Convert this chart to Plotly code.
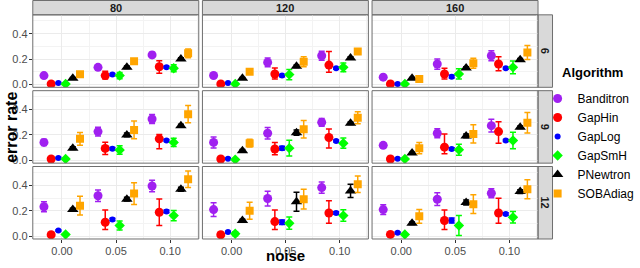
import plotly.graph_objects as go

# ---------------- data ----------------
algorithms = ["Banditron", "GapHin", "GapLog", "GapSmH", "PNewtron", "SOBAdiag"]
noise = [0.00, 0.05, 0.10]
col_labels = ["80", "120", "160"]
row_labels = ["6", "9", "12"]
x_tick_vals = [0.00, 0.05, 0.10]
x_tick_text = ["0.00", "0.05", "0.10"]
y_tick_vals = [0.0, 0.2, 0.4]
y_tick_text = ["0.0", "0.2", "0.4"]

# panels ordered row-wise: (6,80),(6,120),(6,160),(9,80),...,(12,160); 3 noise levels each
banditron = [[0.070, 0.135, 0.233], [0.071, 0.174, 0.226], [0.058, 0.161, 0.226],
             [0.141, 0.226, 0.325], [0.141, 0.213, 0.299], [0.118, 0.213, 0.273],
             [0.232, 0.318, 0.395], [0.209, 0.296, 0.382], [0.209, 0.291, 0.338]]
banditron_err = [[0.012, 0.020, 0.020], [0.012, 0.035, 0.035], [0.012, 0.040, 0.040],
                 [0.025, 0.035, 0.036], [0.043, 0.045, 0.030], [0.015, 0.035, 0.050],
                 [0.039, 0.045, 0.045], [0.054, 0.058, 0.044], [0.039, 0.050, 0.035]]

gaphin = [[0.005, 0.070, 0.140], [0.005, 0.083, 0.153], [0.005, 0.083, 0.161],
          [0.011, 0.094, 0.169], [0.011, 0.089, 0.180], [0.011, 0.104, 0.226],
          [0.011, 0.110, 0.188], [0.011, 0.115, 0.182], [0.014, 0.123, 0.182]]
gaphin_up = [[0.005, 0.034, 0.047], [0.005, 0.047, 0.106], [0.005, 0.044, 0.057],
             [0.006, 0.049, 0.035], [0.006, 0.052, 0.067], [0.006, 0.104, 0.078],
             [0.006, 0.096, 0.104], [0.006, 0.091, 0.096], [0.006, 0.083, 0.117]]
gaphin_dn = [[0.005, 0.026, 0.052], [0.005, 0.039, 0.057], [0.005, 0.039, 0.052],
             [0.006, 0.047, 0.078], [0.006, 0.044, 0.083], [0.006, 0.052, 0.091],
             [0.006, 0.057, 0.104], [0.006, 0.062, 0.080], [0.006, 0.070, 0.080]]

gaplog = [[0.011, 0.078, 0.135], [0.011, 0.070, 0.128], [0.005, 0.062, 0.128],
          [0.019, 0.091, 0.156], [0.013, 0.096, 0.153], [0.013, 0.089, 0.156],
          [0.045, 0.131, 0.195], [0.032, 0.110, 0.182], [0.027, 0.123, 0.174]]
gaplog_err = [[0.004, 0.008, 0.008], [0.004, 0.008, 0.008], [0.004, 0.010, 0.008],
              [0.005, 0.010, 0.008], [0.005, 0.015, 0.008], [0.005, 0.010, 0.008],
              [0.006, 0.010, 0.010], [0.006, 0.018, 0.010], [0.006, 0.020, 0.010]]

gapsmh = [[0.005, 0.070, 0.128], [0.005, 0.078, 0.135], [0.005, 0.083, 0.135],
          [0.011, 0.081, 0.141], [0.006, 0.096, 0.135], [0.011, 0.083, 0.156],
          [0.014, 0.084, 0.162], [0.019, 0.102, 0.162], [0.014, 0.084, 0.149]]
gapsmh_err = [[0.004, 0.024, 0.028], [0.004, 0.040, 0.035], [0.004, 0.040, 0.050],
              [0.005, 0.033, 0.033], [0.005, 0.062, 0.040], [0.005, 0.043, 0.065],
              [0.006, 0.035, 0.040], [0.015, 0.048, 0.045], [0.006, 0.078, 0.045]]

pnewtron = [[0.050, 0.135, 0.200], [0.050, 0.143, 0.208], [0.050, 0.130, 0.195],
            [0.096, 0.200, 0.273], [0.076, 0.218, 0.291], [0.058, 0.192, 0.260],
            [0.209, 0.291, 0.369], [0.123, 0.271, 0.356], [0.102, 0.265, 0.351]]
pnewtron_err = [[0.005, 0.010, 0.010], [0.005, 0.010, 0.010], [0.005, 0.010, 0.010],
                [0.010, 0.015, 0.010], [0.010, 0.020, 0.010], [0.005, 0.015, 0.010],
                [0.010, 0.015, 0.015], [0.010, 0.074, 0.052], [0.010, 0.020, 0.015]]

sobadiag = [[0.081, 0.182, 0.245], [0.101, 0.179, 0.260], [0.044, 0.167, 0.252],
            [0.169, 0.239, 0.363], [0.135, 0.244, 0.335], [0.096, 0.208, 0.296],
            [0.240, 0.335, 0.447], [0.200, 0.291, 0.408], [0.156, 0.252, 0.369]]
sobadiag_err = [[0.010, 0.010, 0.035], [0.010, 0.040, 0.020], [0.010, 0.040, 0.055],
                [0.050, 0.070, 0.068], [0.030, 0.069, 0.048], [0.045, 0.072, 0.080],
                [0.074, 0.085, 0.065], [0.067, 0.078, 0.065], [0.054, 0.074, 0.074]]

series = {
    "Banditron": (banditron, banditron_err, banditron_err),
    "GapHin": (gaphin, gaphin_up, gaphin_dn),
    "GapLog": (gaplog, gaplog_err, gaplog_err),
    "GapSmH": (gapsmh, gapsmh_err, gapsmh_err),
    "PNewtron": (pnewtron, pnewtron_err, pnewtron_err),
    "SOBAdiag": (sobadiag, sobadiag_err, sobadiag_err),
}

# ---------------- style ----------------
colors = {"Banditron": "#A020F0", "GapHin": "#FF0000", "GapLog": "#0000FF",
          "GapSmH": "#00FF00", "PNewtron": "#000000", "SOBAdiag": "#FFA500"}
symbols = {"Banditron": "circle", "GapHin": "circle", "GapLog": "circle",
           "GapSmH": "diamond", "PNewtron": "triangle-up", "SOBAdiag": "square"}
sizes = {"Banditron": 9, "GapHin": 9, "GapLog": 6, "GapSmH": 8, "PNewtron": 10, "SOBAdiag": 8}
dodge_step = 0.00667

W, H = 640, 268
FONT = "Liberation Sans, Arial, sans-serif"
col_px = [(33.0, 200.0), (203.7, 370.7), (374.4, 541.4)]
row_px = [(15.0, 88.3), (91.7, 165.0), (168.4, 241.7)]
strip_top = 0.5
strip_right = (541.4, 556.0)
border_col = "#6E6E6E"

def px_x(v):
    return v / W

def px_y(v):
    return 1 - v / H

fig = go.Figure()
layout = {}
shapes = []
annotations = []

for r in range(3):
    for c in range(3):
        k = r * 3 + c
        ax = "" if k == 0 else str(k + 1)
        x0, x1 = col_px[c]
        y0, y1 = row_px[r]
        layout["xaxis" + ax] = dict(
            domain=[px_x(x0), px_x(x1)], anchor="y" + ax,
            range=[-0.027, 0.1265], tickvals=x_tick_vals, ticktext=x_tick_text,
            showticklabels=(r == 2), ticks="outside" if r == 2 else "", ticklen=3,
            ticklabelstandoff=-1,
            tickcolor="#333333", tickfont=dict(size=11, color="#4D4D4D", family=FONT),
            showgrid=True, gridcolor="#EBEBEB", gridwidth=1, zeroline=False,
            minor=dict(tickvals=[0.025, 0.075, 0.125], showgrid=True, gridcolor="#F3F3F3", gridwidth=0.6),
            showline=False, fixedrange=True,
        )
        layout["yaxis" + ax] = dict(
            domain=[px_y(y1), px_y(y0)], anchor="x" + ax,
            range=[-0.022, 0.548], tickvals=y_tick_vals, ticktext=y_tick_text,
            showticklabels=(c == 0), ticks="outside" if c == 0 else "", ticklen=3,
            ticklabelstandoff=-1,
            tickcolor="#333333", tickfont=dict(size=11, color="#4D4D4D", family=FONT),
            showgrid=True, gridcolor="#EBEBEB", gridwidth=1, zeroline=False,
            minor=dict(tickvals=[0.1, 0.3, 0.5], showgrid=True, gridcolor="#F3F3F3", gridwidth=0.6),
            showline=False, fixedrange=True,
        )
        # panel border
        shapes.append(dict(type="rect", xref="paper", yref="paper",
                           x0=px_x(x0), x1=px_x(x1), y0=px_y(y1), y1=px_y(y0),
                           line=dict(color=border_col, width=1), fillcolor="rgba(0,0,0,0)", layer="above"))
        for i, alg in enumerate(algorithms):
            vals, up, dn = series[alg]
            xs = [n + (i - 2.5) * dodge_step for n in noise]
            fig.add_trace(go.Scatter(
                x=xs, y=vals[k], mode="markers", name=alg, legendgroup=alg,
                showlegend=(k == 0), xaxis="x" + ax, yaxis="y" + ax,
                marker=dict(color=colors[alg], symbol=symbols[alg], size=sizes[alg], line=dict(width=0)),
                error_y=dict(type="data", symmetric=False, array=up[k], arrayminus=dn[k],
                             color=colors[alg], thickness=1.5, width=3),
                hoverinfo="skip",
            ))

# top strips
for c in range(3):
    x0, x1 = col_px[c]
    shapes.append(dict(type="rect", xref="paper", yref="paper",
                       x0=px_x(x0), x1=px_x(x1), y0=px_y(row_px[0][0]), y1=px_y(strip_top),
                       line=dict(color=border_col, width=1), fillcolor="#D9D9D9", layer="below"))
    annotations.append(dict(text="<b>%s</b>" % col_labels[c], xref="paper", yref="paper",
                            x=px_x((x0 + x1) / 2), y=px_y((strip_top + row_px[0][0]) / 2),
                            showarrow=False, font=dict(size=11, color="#1A1A1A", family=FONT),
                            xanchor="center", yanchor="middle"))
# right strips
for r in range(3):
    y0, y1 = row_px[r]
    shapes.append(dict(type="rect", xref="paper", yref="paper",
                       x0=px_x(strip_right[0]), x1=px_x(strip_right[1]), y0=px_y(y1), y1=px_y(y0),
                       line=dict(color=border_col, width=1), fillcolor="#D9D9D9", layer="below"))
    annotations.append(dict(text="<b>%s</b>" % row_labels[r], xref="paper", yref="paper",
                            x=px_x(sum(strip_right) / 2), y=px_y((y0 + y1) / 2), textangle=90,
                            showarrow=False, font=dict(size=11, color="#1A1A1A", family=FONT),
                            xanchor="center", yanchor="middle"))

# axis titles
annotations.append(dict(text="<b>error rate</b>", xref="paper", yref="paper",
                        x=px_x(12), y=px_y((row_px[0][0] + row_px[2][1]) / 2), textangle=-90,
                        showarrow=False, font=dict(size=16, color="#000000", family=FONT),
                        xanchor="center", yanchor="middle"))
annotations.append(dict(text="<b>noise</b>", xref="paper", yref="paper",
                        x=px_x((col_px[0][0] + col_px[2][1]) / 2), y=px_y(258),
                        showarrow=False, font=dict(size=15, color="#000000", family=FONT),
                        xanchor="center", yanchor="middle", borderpad=0))
# legend title
annotations.append(dict(text="<b>Algorithm</b>", xref="paper", yref="paper",
                        x=px_x(564), y=px_y(73), showarrow=False,
                        font=dict(size=13, color="#000000", family=FONT),
                        xanchor="left", yanchor="middle"))

fig.update_layout(
    width=W, height=H, margin=dict(l=0, r=0, t=0, b=0),
    paper_bgcolor="white", plot_bgcolor="white",
    font=dict(family=FONT),
    shapes=shapes, annotations=annotations,
    legend=dict(font=dict(size=12, color="#000000", family=FONT),
                x=px_x(541), y=px_y(85), xanchor="left", yanchor="top",
                bgcolor="rgba(0,0,0,0)", tracegroupgap=0, itemwidth=30),
    **layout,
)

fig.write_html("out.html", config={"displayModeBar": False},
               post_script="document.body.style.margin='0px';")
